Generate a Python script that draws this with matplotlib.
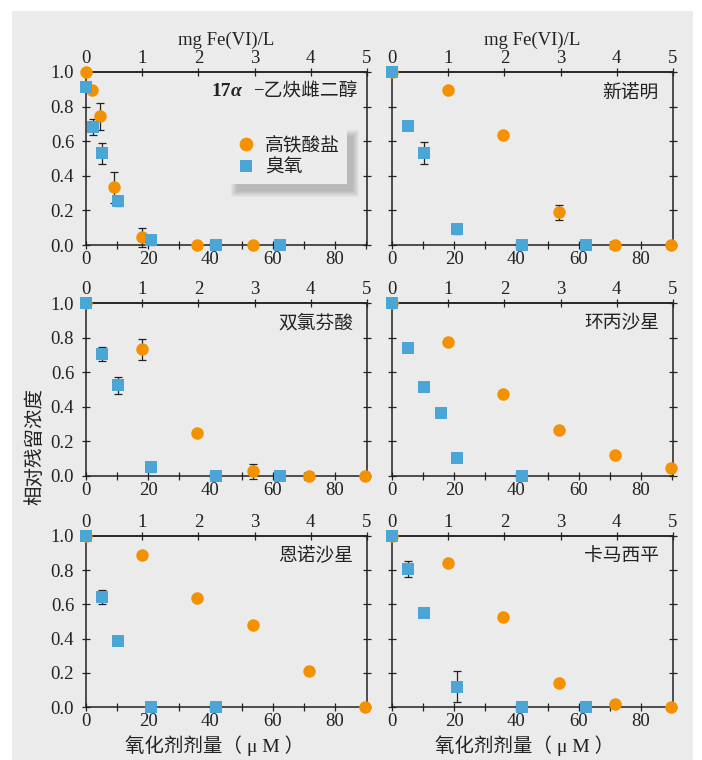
import matplotlib

matplotlib.use("Agg")
from matplotlib import pyplot as plt
from matplotlib.patches import Rectangle
from matplotlib.ticker import FixedLocator, MultipleLocator, FormatStrFormatter

# dose grids (µM); 1 mg Fe(VI)/L ~ 18 µM
FE_DOSE = [0, 17.9, 35.8, 53.7, 71.6, 89.5]
FE_DOSE_EE2 = [0, 1.8, 4.5, 9.0, 17.9, 35.8, 53.7]
O3_DOSE = [0, 5.2, 10.4, 20.8, 41.7, 62.5]
O3_DOSE_EE2 = [0, 2.1, 5.2, 10.4, 20.8, 41.7, 62.5]
O3_DOSE_CIP = [0, 5.2, 10.4, 15.6, 20.8, 41.7]
O3_DOSE_ENR = [0, 5.2, 10.4, 20.8, 41.7]

compounds = ["17α-乙炔雌二醇", "新诺明", "双氯芬酸", "环丙沙星", "恩诺沙星", "卡马西平"]

# ferrate series: remaining fraction and error
fe_ee2 = [1.0, 0.894, 0.743, 0.334, 0.044, 0.0, 0.0]
fe_ee2_err = [0, 0, 0.08, 0.09, 0.053, 0, 0]
fe_smx = [1.0, 0.898, 0.633, 0.189, 0.0, 0.0]
fe_smx_err = [0, 0.01, 0, 0.045, 0, 0]
fe_dcf = [1.0, 0.733, 0.248, 0.027, 0.0, 0.0]
fe_dcf_err = [0, 0.06, 0, 0.045, 0, 0]
fe_cip = [1.0, 0.774, 0.474, 0.265, 0.120, 0.048]
fe_cip_err = [0, 0, 0, 0, 0, 0]
fe_enr = [1.0, 0.889, 0.635, 0.480, 0.210, 0.0]
fe_enr_err = [0, 0, 0, 0, 0, 0]
fe_cbz = [1.0, 0.843, 0.528, 0.138, 0.016, 0.0]
fe_cbz_err = [0, 0, 0, 0, 0, 0]

# ozone series
o3_ee2 = [0.913, 0.681, 0.531, 0.253, 0.029, 0.0, 0.0]
o3_ee2_err = [0, 0.045, 0.06, 0.03, 0.03, 0, 0]
o3_smx = [1.0, 0.689, 0.531, 0.091, 0.0, 0.0]
o3_smx_err = [0, 0, 0.065, 0.03, 0, 0]
o3_dcf = [1.0, 0.704, 0.524, 0.052, 0.0, 0.0]
o3_dcf_err = [0, 0.04, 0.05, 0.03, 0, 0]
o3_cip = [1.0, 0.739, 0.513, 0.362, 0.104, 0.0]
o3_cip_err = [0, 0, 0, 0, 0, 0]
o3_enr = [1.0, 0.645, 0.384, 0.0, 0.0]
o3_enr_err = [0, 0.04, 0, 0, 0]
o3_cbz = [1.0, 0.808, 0.548, 0.118, 0.0, 0.0]
o3_cbz_err = [0, 0.045, 0, 0.09, 0, 0]

panels = [
    (FE_DOSE_EE2, fe_ee2, fe_ee2_err, O3_DOSE_EE2, o3_ee2, o3_ee2_err),
    (FE_DOSE, fe_smx, fe_smx_err, O3_DOSE, o3_smx, o3_smx_err),
    (FE_DOSE, fe_dcf, fe_dcf_err, O3_DOSE, o3_dcf, o3_dcf_err),
    (FE_DOSE, fe_cip, fe_cip_err, O3_DOSE_CIP, o3_cip, o3_cip_err),
    (FE_DOSE, fe_enr, fe_enr_err, O3_DOSE_ENR, o3_enr, o3_enr_err),
    (FE_DOSE, fe_cbz, fe_cbz_err, O3_DOSE, o3_cbz, o3_cbz_err),
]

ORANGE = "#F39200"
BLUE = "#4BA6D6"
BG = "#EBEBEB"
INK = "#222222"
MIXED = ["Liberation Serif", "Noto Sans CJK SC"]
MG_TO_UM = 18.06
XMAX = 90.3
TICK_FS = 13.5

plt.rcParams["font.family"] = MIXED
plt.rcParams["axes.unicode_minus"] = False

W, H = 702, 760
fig = plt.figure(figsize=(W / 100, H / 100), dpi=100)
fig.patches.append(Rectangle((12 / W, 0), (693 - 12) / W, 1 - 11 / H,
                             transform=fig.transFigure, facecolor=BG,
                             edgecolor="none", zorder=-10))

col_edges = [(86, 367), (392, 673)]
row_edges = [(72, 245), (303, 476), (536, 707)]


def draw_errors(ax, xs, ys, errs):
    pts = [(x, y, e) for x, y, e in zip(xs, ys, errs) if e > 0]
    if not pts:
        return
    ex, ey, ee = zip(*pts)
    ax.errorbar(ex, ey, yerr=ee, fmt="none", ecolor=INK, elinewidth=0.9,
                capsize=3, capthick=0.9, zorder=2, clip_on=False)


axes = []
for idx, (fe_x, fe_y, fe_e, o3_x, o3_y, o3_e) in enumerate(panels):
    row, col = divmod(idx, 2)
    left, right = col_edges[col]
    top, bottom = row_edges[row]
    ax = fig.add_axes([left / W, 1 - bottom / H, (right - left) / W, (bottom - top) / H])
    ax.set_facecolor(BG)
    axes.append(ax)

    draw_errors(ax, fe_x, fe_y, fe_e)
    draw_errors(ax, o3_x, o3_y, o3_e)
    ax.plot(fe_x, fe_y, "o", color=ORANGE, markersize=9, markeredgewidth=0,
            clip_on=False, zorder=3, label="高铁酸盐")
    ax.plot(o3_x, o3_y, "s", color=BLUE, markersize=8.5, markeredgewidth=0,
            clip_on=False, zorder=4, label="臭氧")

    ax.set_xlim(0, XMAX)
    ax.set_ylim(0, 1.0)
    ax.xaxis.set_major_locator(FixedLocator([0, 20, 40, 60, 80]))
    ax.xaxis.set_minor_locator(MultipleLocator(10))
    ax.yaxis.set_major_locator(MultipleLocator(0.2))
    ax.yaxis.set_major_formatter(FormatStrFormatter("%.1f"))
    ax.tick_params(which="both", direction="inout", color=INK, width=0.9,
                   labelsize=TICK_FS, labelcolor=INK, right=True)
    ax.tick_params(which="major", length=6)
    ax.tick_params(which="minor", length=6)
    ax.tick_params(axis="x", pad=1.5)
    ax.tick_params(axis="y", pad=5.5)
    if col == 1:
        ax.tick_params(axis="y", labelleft=False)
    for spine in ax.spines.values():
        spine.set_color(INK)
        spine.set_linewidth(1.1)

    top_ax = ax.secondary_xaxis("top", functions=(lambda u: u / MG_TO_UM,
                                                  lambda m: m * MG_TO_UM))
    top_ax.set_xticks([0, 1, 2, 3, 4, 5])
    top_ax.tick_params(direction="inout", length=6, width=0.9, color=INK,
                       labelsize=TICK_FS, labelcolor=INK, pad=0.5)
    top_ax.spines["top"].set_color(INK)
    top_ax.spines["top"].set_linewidth(1.1)
    if row == 0:
        top_ax.set_xlabel("mg Fe(VI)/L", fontsize=13.5, color=INK, labelpad=4)

    if idx == 0:
        t = ax.text(0.965, 0.885, "−乙炔雌二醇", transform=ax.transAxes,
                    ha="right", va="center", fontsize=13.5, color=INK)
        a = ax.annotate("α", xy=(0, 0.5), xycoords=t, xytext=(-8, 0),
                        textcoords="offset points", ha="right", va="center",
                        fontsize=14, fontweight="bold", fontstyle="italic",
                        family="Liberation Serif", color=INK)
        ax.annotate("17", xy=(0, 0.5), xycoords=a, ha="right", va="center",
                    fontsize=14, fontweight="bold", family="Liberation Serif",
                    color=INK)
    else:
        ax.text(0.95, 0.88, compounds[idx], transform=ax.transAxes,
                ha="right", va="center", fontsize=13.5, color=INK)

leg_ax = axes[0]
leg = leg_ax.legend(loc="upper left", bbox_to_anchor=(0.516, 0.671),
                    borderaxespad=0, frameon=True, fancybox=False,
                    facecolor="#ECECEC", edgecolor="none", framealpha=1,
                    fontsize=13.5, handlelength=0.8, handletextpad=0.6,
                    borderpad=0.4, labelspacing=0.3, labelcolor=INK,
                    markerscale=1.1)
leg.set_zorder(6)

# soft drop shadow, offset down and to the right of the legend box
fig.canvas.draw()
bb = leg.get_frame().get_window_extent().transformed(leg_ax.transAxes.inverted())
px = 1 / (col_edges[0][1] - col_edges[0][0])
py = 1 / (row_edges[0][1] - row_edges[0][0])
for k in range(6, -1, -1):
    leg_ax.add_patch(Rectangle((bb.x0 + (6 - k) * px, bb.y0 - (7 + k) * py),
                               bb.width + 2 * k * px, bb.height + 2 * k * py,
                               transform=leg_ax.transAxes, facecolor="#000000",
                               alpha=0.03, edgecolor="none", zorder=5))

fig.text(35 / W, 1 - 446 / H, "相对残留浓度", rotation=90, ha="center",
         va="center", fontsize=14, color=INK)
fig.text(215 / W, 1 - 746 / H, "氧化剂剂量（ μ M ）", ha="center", va="center",
         fontsize=14, color=INK)
fig.text(525 / W, 1 - 746 / H, "氧化剂剂量（ μ M ）", ha="center", va="center",
         fontsize=14, color=INK)

fig.savefig("out.png", dpi=100)
plt.close(fig)
